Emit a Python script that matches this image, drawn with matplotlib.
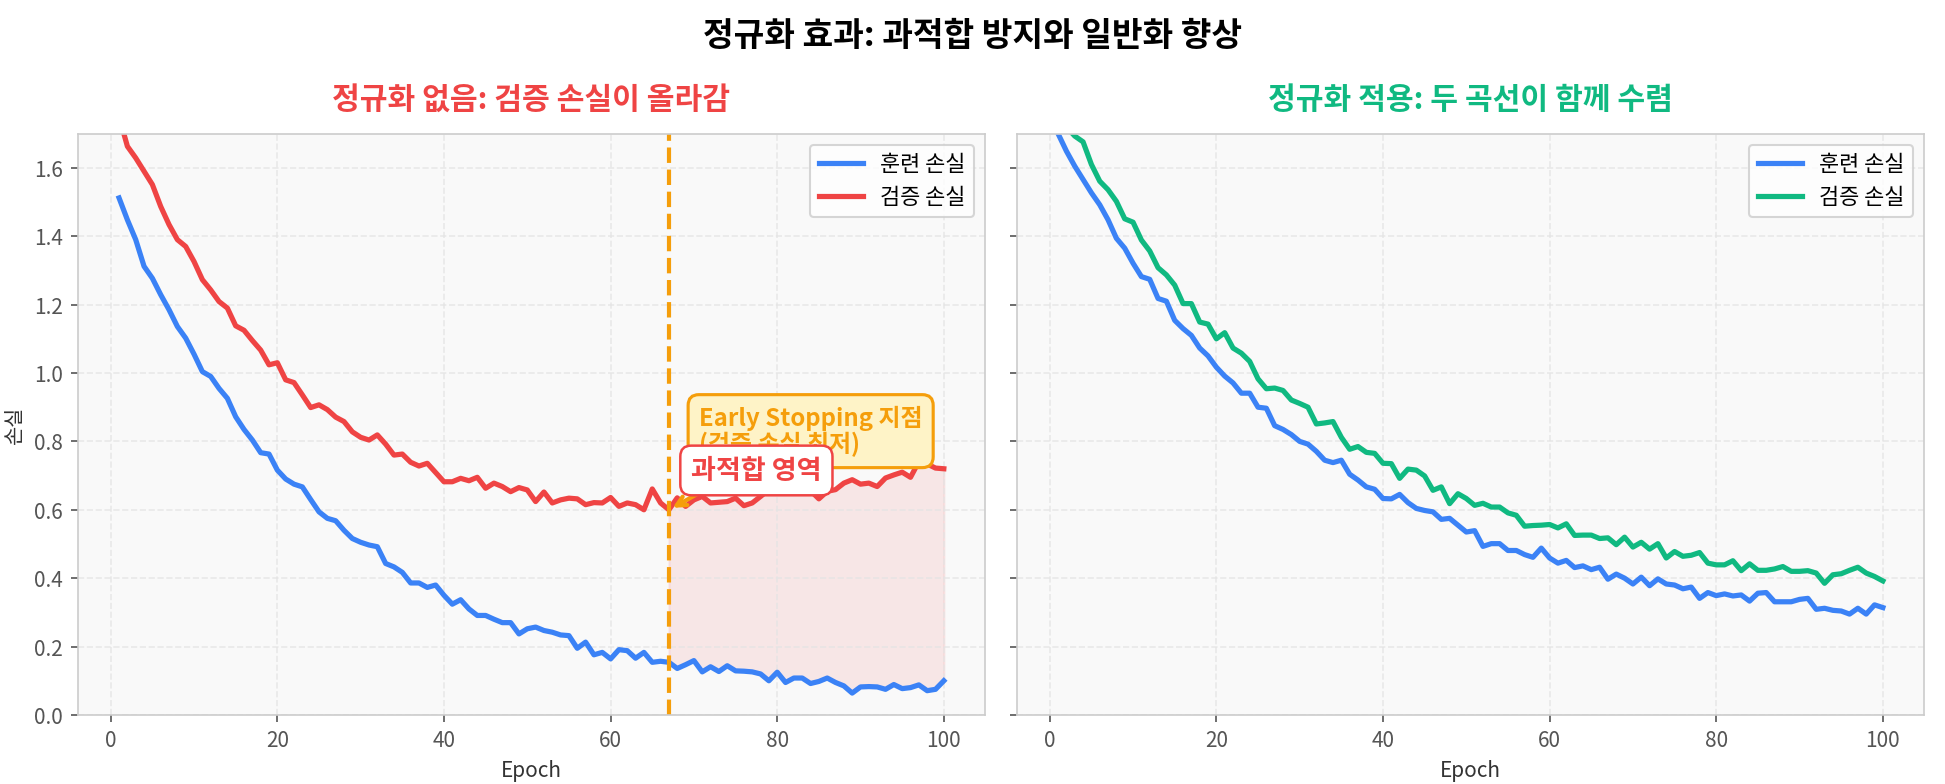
import numpy as np
import matplotlib.pyplot as plt

plt.rcParams['font.family'] = ['Noto Sans CJK KR', 'DejaVu Sans']
plt.rcParams['axes.unicode_minus'] = False

epochs = np.arange(1, 101)

# 정규화 없음
train_no_reg = [
    1.512, 1.448, 1.390, 1.312, 1.277, 1.229, 1.185, 1.136, 1.102, 1.055,
    1.004, 0.990, 0.955, 0.926, 0.872, 0.835, 0.804, 0.767, 0.763, 0.716,
    0.690, 0.675, 0.667, 0.630, 0.594, 0.575, 0.568, 0.540, 0.516, 0.505,
    0.497, 0.492, 0.443, 0.433, 0.417, 0.386, 0.386, 0.373, 0.380, 0.350,
    0.324, 0.337, 0.310, 0.291, 0.291, 0.280, 0.270, 0.270, 0.237, 0.252,
    0.257, 0.247, 0.242, 0.234, 0.232, 0.195, 0.213, 0.176, 0.183, 0.164,
    0.191, 0.188, 0.166, 0.183, 0.154, 0.157, 0.154, 0.136, 0.147, 0.159,
    0.126, 0.141, 0.127, 0.144, 0.129, 0.128, 0.126, 0.120, 0.100, 0.125,
    0.095, 0.108, 0.108, 0.092, 0.098, 0.108, 0.095, 0.085, 0.064, 0.082,
    0.083, 0.082, 0.075, 0.089, 0.077, 0.080, 0.088, 0.071, 0.075, 0.100,
]
val_no_reg = [
    1.750, 1.663, 1.629, 1.590, 1.551, 1.487, 1.434, 1.390, 1.370, 1.326,
    1.273, 1.243, 1.209, 1.190, 1.138, 1.125, 1.095, 1.067, 1.024, 1.030,
    0.980, 0.972, 0.936, 0.899, 0.907, 0.893, 0.871, 0.858, 0.828, 0.812,
    0.804, 0.819, 0.792, 0.760, 0.763, 0.739, 0.728, 0.736, 0.709, 0.682,
    0.682, 0.692, 0.685, 0.695, 0.663, 0.678, 0.668, 0.653, 0.665, 0.658,
    0.624, 0.652, 0.620, 0.629, 0.634, 0.632, 0.615, 0.621, 0.620, 0.636,
    0.610, 0.620, 0.615, 0.600, 0.661, 0.620, 0.600, 0.635, 0.610, 0.629,
    0.639, 0.620, 0.622, 0.624, 0.634, 0.612, 0.620, 0.639, 0.659, 0.656,
    0.663, 0.659, 0.649, 0.656, 0.632, 0.654, 0.659, 0.678, 0.688, 0.675,
    0.678, 0.668, 0.693, 0.702, 0.710, 0.695, 0.741, 0.734, 0.722, 0.720,
]

# 정규화 적용
train_reg = [
    1.700, 1.649, 1.605, 1.566, 1.527, 1.492, 1.448, 1.394, 1.365, 1.321,
    1.282, 1.274, 1.218, 1.210, 1.154, 1.130, 1.110, 1.073, 1.050, 1.017,
    0.991, 0.971, 0.941, 0.941, 0.900, 0.897, 0.846, 0.835, 0.820, 0.800,
    0.792, 0.771, 0.745, 0.738, 0.745, 0.704, 0.687, 0.667, 0.660, 0.633,
    0.632, 0.645, 0.621, 0.604, 0.598, 0.594, 0.572, 0.575, 0.555, 0.535,
    0.539, 0.493, 0.501, 0.501, 0.481, 0.481, 0.469, 0.461, 0.488, 0.459,
    0.444, 0.452, 0.431, 0.436, 0.425, 0.432, 0.397, 0.412, 0.400, 0.383,
    0.403, 0.378, 0.398, 0.383, 0.380, 0.369, 0.374, 0.341, 0.358, 0.349,
    0.354, 0.348, 0.351, 0.333, 0.356, 0.358, 0.331, 0.331, 0.331, 0.338,
    0.341, 0.309, 0.312, 0.306, 0.304, 0.295, 0.312, 0.295, 0.322, 0.314,
]
val_reg = [
    1.780, 1.720, 1.693, 1.676, 1.610, 1.561, 1.536, 1.502, 1.451, 1.441,
    1.389, 1.357, 1.308, 1.287, 1.257, 1.203, 1.203, 1.149, 1.143, 1.100,
    1.118, 1.073, 1.058, 1.034, 0.983, 0.954, 0.956, 0.949, 0.921, 0.911,
    0.900, 0.851, 0.854, 0.858, 0.812, 0.777, 0.785, 0.768, 0.765, 0.736,
    0.735, 0.692, 0.719, 0.716, 0.699, 0.657, 0.667, 0.618, 0.647, 0.633,
    0.613, 0.619, 0.608, 0.608, 0.591, 0.584, 0.552, 0.554, 0.555, 0.557,
    0.547, 0.559, 0.525, 0.526, 0.526, 0.516, 0.518, 0.498, 0.520, 0.491,
    0.505, 0.485, 0.501, 0.459, 0.478, 0.464, 0.467, 0.475, 0.444, 0.439,
    0.439, 0.451, 0.422, 0.442, 0.423, 0.423, 0.427, 0.434, 0.420, 0.420,
    0.422, 0.415, 0.385, 0.410, 0.413, 0.423, 0.432, 0.415, 0.405, 0.392,
]

early_stop = 67

BLUE = '#3b82f6'
RED = '#ef4444'
GREEN = '#10b981'
ORANGE = '#f59e0b'

fig, (ax1, ax2) = plt.subplots(1, 2, figsize=(12.97, 5.23), dpi=150, sharey=True)
fig.subplots_adjust(left=0.040, right=0.989, bottom=0.088, top=0.829, wspace=0.035)

for ax in (ax1, ax2):
    ax.set_facecolor('#f9f9f9')
    ax.grid(True, linestyle='--', color='#e4e4e4', alpha=0.8, linewidth=0.8)
    for s in ax.spines.values():
        s.set_color('#cccccc')
    ax.tick_params(colors='#555555', labelsize=10)
    ax.set_xlabel('Epoch', fontsize=10, color='#333333')

# 왼쪽: 정규화 없음
ax1.plot(epochs, train_no_reg, color=BLUE, lw=2.5, label='훈련 손실')
ax1.plot(epochs, val_no_reg, color=RED, lw=2.5, label='검증 손실')
ax1.axvline(early_stop, color=ORANGE, ls='--', lw=2)
ax1.fill_between(epochs[early_stop - 1:], train_no_reg[early_stop - 1:],
                 val_no_reg[early_stop - 1:], color=RED, alpha=0.1)
ax1.annotate('Early Stopping 지점\n(검증 손실 최저)',
             xy=(early_stop, val_no_reg[early_stop - 1]), xytext=(70.6, 0.83),
             fontsize=11.5, fontweight='bold', color=ORANGE, ha='left', va='center',
             linespacing=1.05,
             bbox=dict(boxstyle='round,pad=0.45', facecolor='#fef3c7', edgecolor=ORANGE, lw=1.5),
             arrowprops=dict(arrowstyle='->', color=ORANGE, lw=2))
ax1.text(77.5, 0.715, '과적합 영역', fontsize=13, fontweight='bold', color=RED,
         ha='center', va='center',
         bbox=dict(boxstyle='round,pad=0.4', facecolor='white', edgecolor=RED, lw=1.2))
ax1.set_title('정규화 없음: 검증 손실이 올라감', fontsize=14.5, fontweight='bold',
              color=RED, pad=12)
ax1.set_ylabel('손실', fontsize=10, color='#333333')
ax1.legend(loc='upper right', fontsize=10.5)

# 오른쪽: 정규화 적용
ax2.plot(epochs, train_reg, color=BLUE, lw=2.5, label='훈련 손실')
ax2.plot(epochs, val_reg, color=GREEN, lw=2.5, label='검증 손실')
ax2.set_title('정규화 적용: 두 곡선이 함께 수렴', fontsize=14.5, fontweight='bold',
              color=GREEN, pad=12)
ax2.legend(loc='upper right', fontsize=10.5)

ax1.set_ylim(0, 1.7)

fig.suptitle('정규화 효과: 과적합 방지와 일반화 향상', fontsize=16, fontweight='bold', y=0.975)

plt.savefig('out.png', dpi=150)
